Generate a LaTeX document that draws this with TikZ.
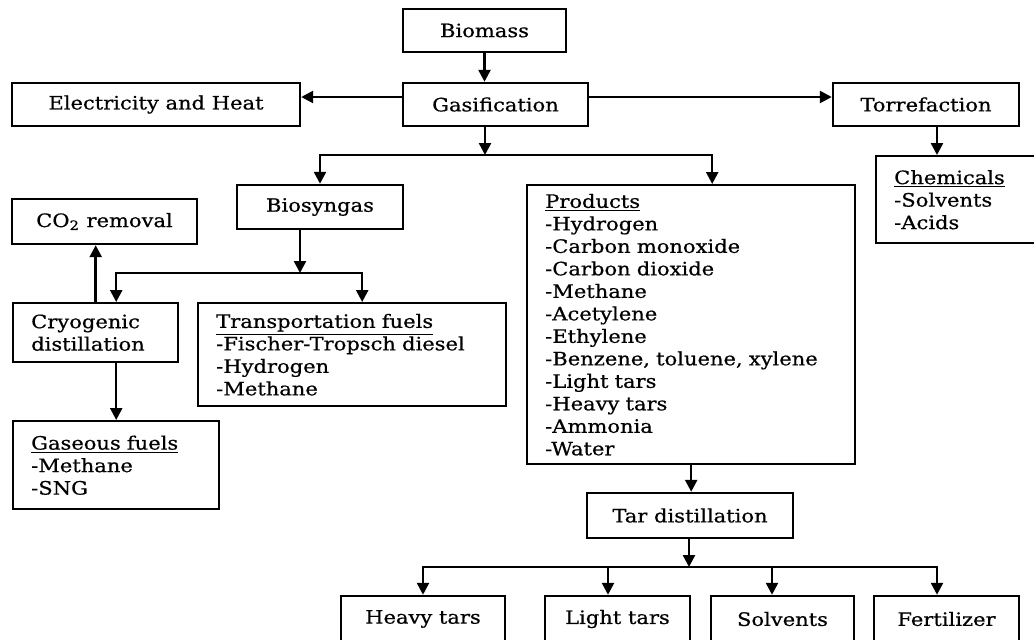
\documentclass[tikz,border=0pt]{standalone}
\usepackage{fontspec}
\setmainfont[FakeStretch=1.14, FakeBold=0.6]{DejaVu Serif}
\usetikzlibrary{arrows.meta}

\begin{document}
\begin{tikzpicture}[x=0.02cm, y=-0.02cm,
    box/.style={draw, line width=1.4pt, inner sep=0pt, font=\fontsize{10.5}{12.8}\selectfont},
    list/.style={box, anchor=north west, align=left, inner xsep=0.36cm},
    arr/.style={line width=1.4pt, -{Triangle[length=0.24cm, width=0.24cm]}}]

      \clip (0,0) rectangle (1034,639);
      \fill[white] (0,0) rectangle (1034,639);

      \node[box, minimum width=3.26cm, minimum height=0.86cm] (bio) at (484.5,30.5) {Biomass};
      \node[box, minimum width=3.70cm, minimum height=0.86cm] (gas) at (495.5,104.5) {Gasification};
      \node[box, minimum width=5.76cm, minimum height=0.86cm] (elec) at (156,104.5) {Electricity and Heat};
      \node[box, minimum width=3.72cm, minimum height=0.86cm] (tor) at (926,104.5) {Torrefaction};

      \node[list, text width=2.58cm, minimum height=1.74cm] (chem) at (875,155) {\underline{Chemicals}\\-Solvents\\-Acids};
      \node[box, minimum width=3.32cm, minimum height=0.88cm] (syn) at (320,207) {Biosyngas};
      \node[list, text width=5.84cm, minimum height=5.58cm] (prod) at (526,184)
        {\underline{Products}\\-Hydrogen\\-Carbon monoxide\\-Carbon dioxide\\-Methane\\-Acetylene\\-Ethylene\\-Benzene, toluene, xylene\\-Light tars\\-Heavy tars\\-Ammonia\\-Water};

      \node[box, minimum width=3.70cm, minimum height=0.90cm] (co2) at (104.5,221.5) {CO\textsubscript{2} removal};
      \node[list, text width=2.58cm, minimum height=1.18cm] (cryo) at (12,302) {Cryogenic\\distillation};
      \node[list, text width=5.44cm, minimum height=2.06cm] (fuel) at (197,302)
        {\underline{Transportation fuels}\\-Fischer-Tropsch diesel\\-Hydrogen\\-Methane};
      \node[list, text width=3.40cm, minimum height=1.76cm] (gasf) at (12,420) {\underline{Gaseous fuels}\\-Methane\\-SNG};

      \node[box, minimum width=4.12cm, minimum height=0.90cm] (tar) at (690,515.5) {Tar distillation};
      \node[box, minimum width=3.28cm, minimum height=0.92cm] (heavy) at (423,619) {Heavy tars};
      \node[box, minimum width=2.90cm, minimum height=0.92cm] (light) at (617.5,619) {Light tars};
      \node[box, minimum width=2.86cm, minimum height=0.92cm] (solv) at (782.5,619) {Solvents};
      \node[box, minimum width=2.90cm, minimum height=0.92cm] (fert) at (946.5,619) {Fertilizer};

      \coordinate (j1) at (485,155);
      \coordinate (j2) at (300,273);
      \coordinate (j3) at (689,567);

      \draw[arr] (bio.south) -- (bio.south |- gas.north);
      \draw[arr] ([yshift=0.15cm]gas.west) -- ([yshift=0.15cm]elec.east);
      \draw[arr] ([yshift=0.15cm]gas.east) -- ([yshift=0.15cm]tor.west);
      \draw[arr] ([xshift=0.22cm]tor.south) -- ([xshift=0.22cm]tor.south |- chem.north);

      \draw[arr] (gas.south -| j1) -- (j1);
      \draw[arr] (j1) -| (syn.north);
      \draw[arr] (j1) -| ([xshift=0.42cm]prod.north);

      \draw[arr] (syn.south -| j2) -- (j2);
      \draw[arr] (j2) -| (gasf.north |- cryo.north);
      \draw[arr] (j2) -| ([xshift=0.2cm]fuel.north);
      \draw[arr] (cryo.north) -- (cryo.north |- co2.south);
      \draw[arr] (cryo.south -| gasf.north) -- (gasf.north);

      \draw[arr] (prod.south) -- (prod.south |- tar.north);
      \draw[arr] (tar.south -| j3) -- (j3);
      \draw[arr] (j3) -| (heavy.north);
      \draw[arr] (j3) -| ([xshift=-0.19cm]light.north);
      \draw[arr] (j3) -| ([xshift=-0.21cm]solv.north);
      \draw[arr] (j3) -| ([xshift=-0.19cm]fert.north);

    \end{tikzpicture}
\end{document}
